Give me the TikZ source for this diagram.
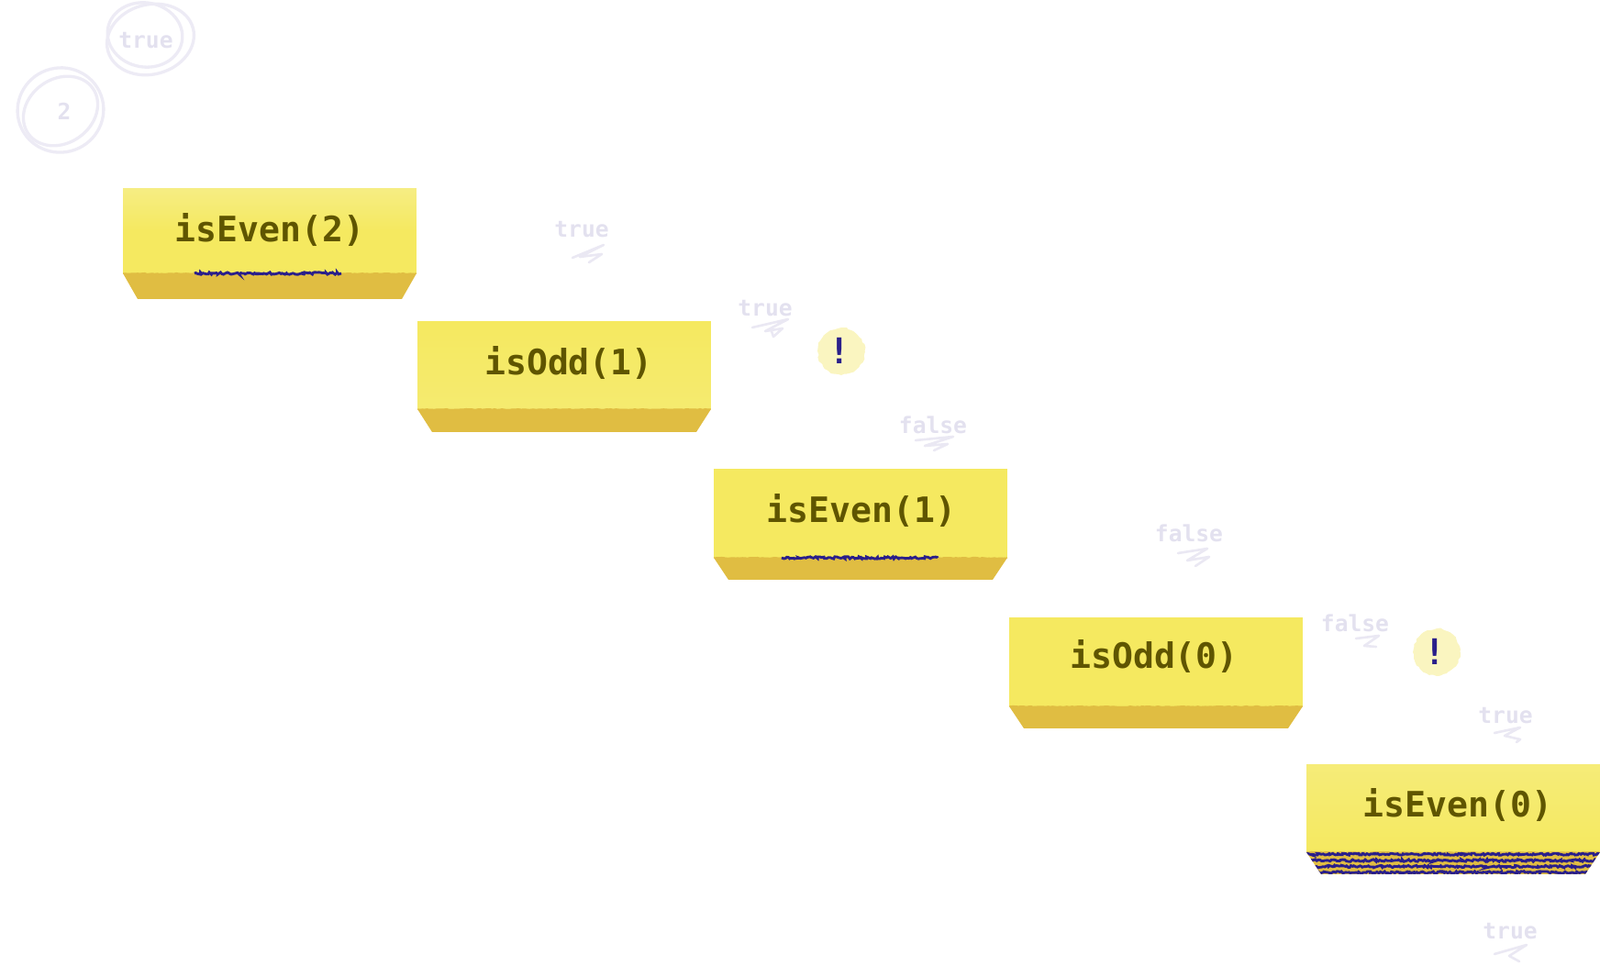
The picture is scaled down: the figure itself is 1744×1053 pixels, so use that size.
\documentclass[tikz,border=0pt]{standalone}
\usepackage{fontspec}
\usepackage{xcolor}
\newfontfamily\codefont{DejaVu Sans Mono}
\usetikzlibrary{positioning,calc,decorations.pathmorphing}
\definecolor{faceyellow}{HTML}{F5E960}
\definecolor{facepale}{HTML}{F6EE8C}
\definecolor{foldgold}{HTML}{E0BD42}
\definecolor{codeolive}{HTML}{5F5500}
\definecolor{ghostgrey}{HTML}{E3E1EF}
\definecolor{inkblue}{HTML}{2A1F8A}
\definecolor{alertpale}{HTML}{FAF5C0}
\tikzset{
    facebox/.style={minimum width=6.4cm, minimum height=1.92cm, inner sep=0pt, outer sep=0pt, fill=faceyellow},
    calltext/.style={text=codeolive, font=\codefont\bfseries\fontsize{21.7}{24}\selectfont, inner sep=0pt},
    ghosttext/.style={text=ghostgrey, font=\codefont\bfseries\fontsize{14}{16}\selectfont, inner sep=0pt},
    scribble/.style={draw=ghostgrey!75, line width=1.5pt, line cap=round, line join=round},
    pencil/.style={draw=ghostgrey!65, line width=1.9pt, line cap=round},
    inkline/.style={draw=inkblue, line width=1.6pt, decorate, decoration={random steps, segment length=1pt, amplitude=.7pt}},
    foldedge/.style={draw=foldgold, line width=.6pt, decorate, decoration={random steps, segment length=1.5pt, amplitude=.3pt}},
    alertdot/.style={circle, minimum size=1.02cm, inner sep=0pt, fill=alertpale, decorate, decoration={random steps, segment length=2pt, amplitude=.6pt}},
    alertmark/.style={text=inkblue, font=\codefont\bfseries\fontsize{22}{24}\selectfont, inner sep=0pt},
}
\begin{document}
\begin{tikzpicture}[x=0.02cm, y=-0.02cm]
    \useasboundingbox (0,0) rectangle (1744,1053);

    % the five stacked frames
    \node[facebox, minimum height=1.86cm, top color=facepale!80!faceyellow, bottom color=faceyellow, middle color=faceyellow] (boxA) at (294,251.5) {};
    \node[facebox, bottom color=facepale!35!faceyellow, top color=faceyellow] (boxB) at (615,398) {};
    \node[facebox, minimum height=1.94cm] (boxC) at (938,559.5) {};
    \node[facebox, minimum height=1.94cm] (boxD) at (1260,721.5) {};
    \node[facebox, top color=facepale!55!faceyellow, bottom color=faceyellow] (boxE) at (1584,881) {};

    % gold lower edge of each frame
    \foreach \boxname/\drop in {boxA/28, boxB/25, boxC/24, boxD/24, boxE/24} {
        \fill[foldgold] (\boxname.south west) -- (\boxname.south east)
            -- ++(-16,\drop) -- ($(\boxname.south west)+(16,\drop)$) -- cycle;
        \draw[foldedge] (\boxname.south west) -- (\boxname.south east);
    }

    % marks where the frame is being run
    \draw[inkline] (212,298) -- (372,298);
    \draw[inkline] (852,608) -- (1022,608);
    \begin{scope}
        \clip (boxE.south west) -- (boxE.south east) -- ++(-16,24) -- ($(boxE.south west)+(16,24)$) -- cycle;
        \draw[inkline] (1424,931) -- (1744,931);
        \draw[inkline] (1424,938) -- (1744,938);
        \draw[inkline] (1424,944.5) -- (1744,944.5);
        \draw[inkline] (1424,951) -- (1744,951);
    \end{scope}

    \node[calltext] (callA) at (294,251) {isEven(2)};
    \node[calltext] (callB) at (620,396) {isOdd(1)};
    \node[calltext] (callC) at (939,557) {isEven(1)};
    \node[calltext] (callD) at (1258,716) {isOdd(0)};
    \node[calltext] (callE) at (1589,878) {isEven(0)};

    % values carried back
    \node[ghosttext] (trueA) at (634,250) {true};
    \node[ghosttext] (trueB) at (834,336) {true};
    \node[ghosttext] (falseA) at (1017,463) {false};
    \node[ghosttext] (falseB) at (1296,581) {false};
    \node[ghosttext] (falseC) at (1477,679) {false};
    \node[ghosttext] (trueC) at (1641,780) {true};
    \node[ghosttext] (trueD) at (1646,1015) {true};

    \draw[scribble] (624,281) -- (658,267) -- (632,280) -- (656,277) -- (642,286);
    \draw[scribble] (820,357) -- (859,348) -- (834,361) -- (853,358) -- (843,367) -- (840,358);
    \draw[scribble] (998,480) -- (1039,476) -- (1008,486) -- (1033,484) -- (1018,491);
    \draw[scribble] (1284,603) -- (1316,598) -- (1294,611) -- (1318,607) -- (1303,617);
    \draw[scribble] (1478,696) -- (1503,693) -- (1487,704) -- (1500,705);
    \draw[scribble] (1629,799) -- (1657,793) -- (1640,802) -- (1657,806) -- (1653,809);
    \draw[scribble] (1629,1040) -- (1664,1030) -- (1645,1042) -- (1656,1048);

    % warning spots
    \node[alertdot] (alertA) at (917,383) {};
    \node[alertmark] (markA) at (915,382) {!};
    \node[alertdot] (alertB) at (1566,711) {};
    \node[alertmark] (markB) at (1564,710) {!};

    % arguments in pencil rings
    \node[ghosttext] (ringtrue) at (159,44) {true};
    \node[ghosttext] (ringtwo) at (70,121) {2};
    \draw[pencil, rotate around={15:(164,43)}] (164,43) ellipse (48 and 38);
    \draw[pencil, rotate around={-10:(158,38)}] (158,38) ellipse (41 and 35);
    \draw[pencil, rotate around={20:(66,120)}] (66,120) ellipse (47 and 46);
    \draw[pencil, rotate around={35:(66,121)}] (66,121) ellipse (43 and 35);
\end{tikzpicture}
\end{document}
